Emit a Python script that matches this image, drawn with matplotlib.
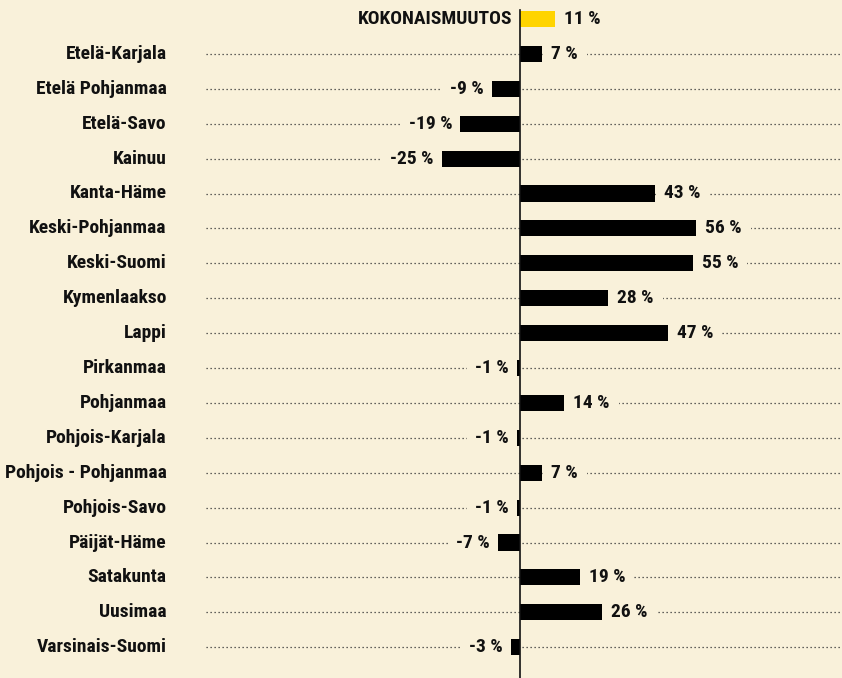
import matplotlib.pyplot as plt

plt.rcParams['font.family'] = ['Roboto Condensed', 'DejaVu Sans Condensed', 'Roboto', 'DejaVu Sans']
plt.rcParams['font.stretch'] = 'condensed'

regions = ['KOKONAISMUUTOS', 'Etelä-Karjala', 'Etelä Pohjanmaa', 'Etelä-Savo', 'Kainuu',
           'Kanta-Häme', 'Keski-Pohjanmaa', 'Keski-Suomi', 'Kymenlaakso', 'Lappi',
           'Pirkanmaa', 'Pohjanmaa', 'Pohjois-Karjala', 'Pohjois - Pohjanmaa',
           'Pohjois-Savo', 'Päijät-Häme', 'Satakunta', 'Uusimaa', 'Varsinais-Suomi']
change = [11, 7, -9, -19, -25, 43, 56, 55, 28, 47, -1, 14, -1, 7, -1, -7, 19, 26, -3]

bg = '#f9f1da'
yellow = '#ffd400'

fig = plt.figure(figsize=(8.42, 6.78), dpi=100, facecolor=bg)
ax = fig.add_axes([0, 0, 1, 1])
ax.set_facecolor(bg)

px = 3.14  # pixels per percent
ax.set_xlim(-520 / px, (842 - 520) / px)
ax.set_ylim((678 - 19) / 34.9, -19 / 34.9)
ax.axis('off')

for i, (name, v) in enumerate(zip(regions, change)):
    total = i == 0
    # dotted guide line, label boxes hide it around the values
    if not total:
        ax.plot([-100, 110], [i, i], color='#333333', lw=0.9,
                linestyle=(0, (1, 2.2)), zorder=1)
    ax.barh(i, v, height=0.46, color=yellow if total else 'black', zorder=3)
    if total:
        ax.text(-2.3, i, name, ha='right', va='center', fontsize=14,
                fontweight='bold', color='#111111', zorder=4)
    else:
        ax.text(-112.5, i, name, ha='right', va='center', fontsize=14,
                fontweight='bold', color='#111111', zorder=4)
    lbl = f'{v} %'
    box = dict(boxstyle='square,pad=0.45', fc=bg, ec='none')
    if v >= 0:
        ax.text(v + 3, i, lbl, ha='left', va='center', fontsize=14,
                fontweight='bold', color='#111111', zorder=2.5, bbox=box)
    else:
        ax.text(v - 2.5, i, lbl, ha='right', va='center', fontsize=14,
                fontweight='bold', color='#111111', zorder=2.5, bbox=box)

# zero line
ax.plot([0, 0], [-0.27, 20], color='#111111', lw=1.2, zorder=5)

fig.savefig('out.png', dpi=100, facecolor=bg)
